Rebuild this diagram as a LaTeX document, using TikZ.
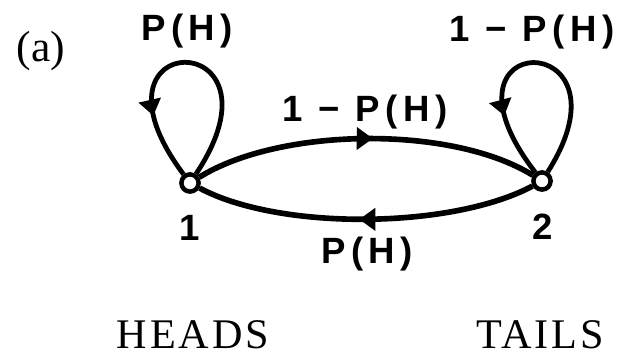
\documentclass[tikz,border=0pt]{standalone}
\usepackage{fontspec}
\setmainfont{Liberation Serif}
\newfontfamily\letterfont{Liberation Sans}[LetterSpace=15]
\usetikzlibrary{arrows.meta,decorations.markings}
\tikzset{
  state/.style={draw, circle, fill=white, line width=3.2pt, minimum size=0.43cm, inner sep=0pt},
  lettering/.style={font=\letterfont\bfseries\fontsize{26}{28}\selectfont, inner sep=0pt},
  caption/.style={font=\fontsize{30}{32}\selectfont\addfontfeature{LetterSpace=7}, inner sep=0pt},
  midarrow/.style={postaction={decorate}, decoration={markings, mark=at position #1 with {\arrow{Triangle[length=0.4cm,width=0.55cm]}}}},
  link/.style={line width=4pt},
  selfloop/.style={line width=3.4pt}
}

\begin{document}
\begin{tikzpicture}[x=0.025cm, y=0.025cm]
  \useasboundingbox (0,0) rectangle (619,361);

  %--- States ---
  \node[state] (s1) at (190,178) {};
  \node[state] (s2) at (542,180) {};
  \node[lettering] (n1) at (190,133) {1};
  \node[lettering] (n2) at (543,134) {2};

  % transitions between the states
  \draw[link, midarrow=0.52] (s1) .. controls (280,234) and (452,236) .. (s2);
  \draw[link, midarrow=0.52] (s2) .. controls (452,132) and (280,130) .. (s1);

  % self loops
  \draw[selfloop, midarrow=0.76] (s1) .. controls +(105,158) and +(-118,158) .. (s1);
  \draw[selfloop, midarrow=0.76] (s2) .. controls +(98,155) and +(-120,155) .. (s2);

  %--- Transition probabilities ---
  \node[lettering] (p11) at (187,330) {P(H)};
  \node[lettering] (p22) at (532,329) {1 − P(H)};
  \node[lettering] (p12) at (365,249) {1 − P(H)};
  \node[lettering] (p21) at (367,107) {P(H)};

  %--- Captions ---
  \node[font=\fontsize{31}{33}\selectfont, inner sep=0pt] (tag) at (41,310) {(a)};
  \node[caption] (heads) at (193,26) {HEADS};
  \node[caption] (tails) at (540,26) {TAILS};
\end{tikzpicture}
\end{document}
